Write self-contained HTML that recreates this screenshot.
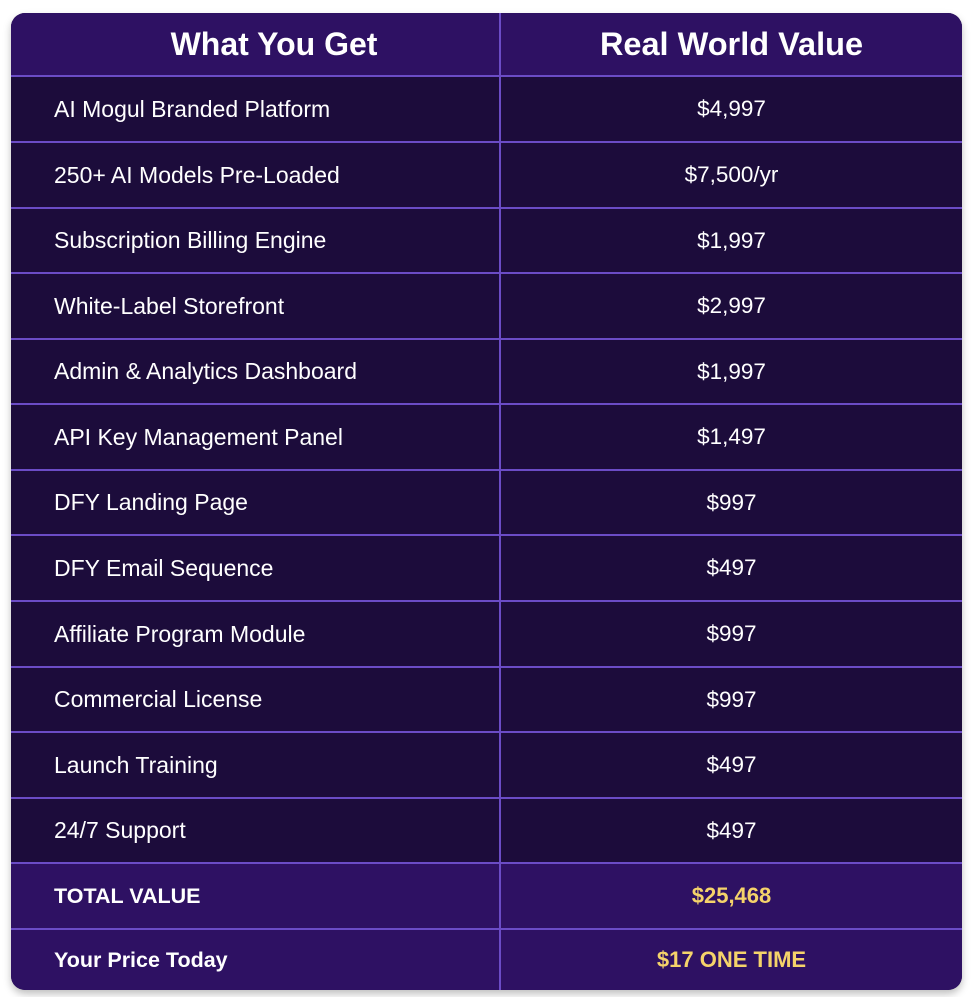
<!DOCTYPE html>
<html><head><style>
body{margin:0;background:#fff;width:974px;height:997px;overflow:hidden;font-family:"Liberation Sans",Arial,sans-serif}
.t{position:absolute;left:11px;top:13px;width:951px;height:977px;border-radius:14px;overflow:hidden;background:#1c0c3b;box-shadow:0 4px 8px rgba(0,0,0,.25)}
.r{position:absolute;left:0;width:951px;box-sizing:border-box;border-top:2px solid #6b4cc6;display:flex;align-items:center;color:#fff}
.r .a{width:490px;box-sizing:border-box;padding-left:43px;font-size:23px;border-right:2px solid #6b4cc6;height:100%;display:flex;align-items:center;white-space:nowrap}
.r .b{flex:1;text-align:center;font-size:22.5px}
.h{background:#2e1163;border-top:none}
.h .a{justify-content:center;padding:0 0 0 38px;font-size:32px;font-weight:bold}
.h .b{font-size:32.5px;font-weight:bold}
.p{background:#2e1163}
.p .a{font-weight:bold;font-size:21.5px}
.p .b{font-weight:bold;color:#f5d36a;font-size:22px}
</style></head><body>
<div class="t">
<div class="r h" style="top:0;height:62px"><div class="a">What You Get</div><div class="b">Real World Value</div></div>
<div class="r" style="top:62px;height:66px"><div class="a">AI Mogul Branded Platform</div><div class="b">$4,997</div></div>
<div class="r" style="top:128px;height:66px"><div class="a">250+ AI Models Pre-Loaded</div><div class="b">$7,500/yr</div></div>
<div class="r" style="top:194px;height:65px"><div class="a">Subscription Billing Engine</div><div class="b">$1,997</div></div>
<div class="r" style="top:259px;height:66px"><div class="a">White-Label Storefront</div><div class="b">$2,997</div></div>
<div class="r" style="top:325px;height:65px"><div class="a">Admin &amp; Analytics Dashboard</div><div class="b">$1,997</div></div>
<div class="r" style="top:390px;height:66px"><div class="a">API Key Management Panel</div><div class="b">$1,497</div></div>
<div class="r" style="top:456px;height:65px"><div class="a">DFY Landing Page</div><div class="b">$997</div></div>
<div class="r" style="top:521px;height:66px"><div class="a">DFY Email Sequence</div><div class="b">$497</div></div>
<div class="r" style="top:587px;height:66px"><div class="a">Affiliate Program Module</div><div class="b">$997</div></div>
<div class="r" style="top:653px;height:65px"><div class="a">Commercial License</div><div class="b">$997</div></div>
<div class="r" style="top:718px;height:66px"><div class="a">Launch Training</div><div class="b">$497</div></div>
<div class="r" style="top:784px;height:65px"><div class="a">24/7 Support</div><div class="b">$497</div></div>
<div class="r p" style="top:849px;height:66px"><div class="a">TOTAL VALUE</div><div class="b">$25,468</div></div>
<div class="r p" style="top:915px;height:62px"><div class="a">Your Price Today</div><div class="b">$17 ONE TIME</div></div>
</div>
</body></html>
